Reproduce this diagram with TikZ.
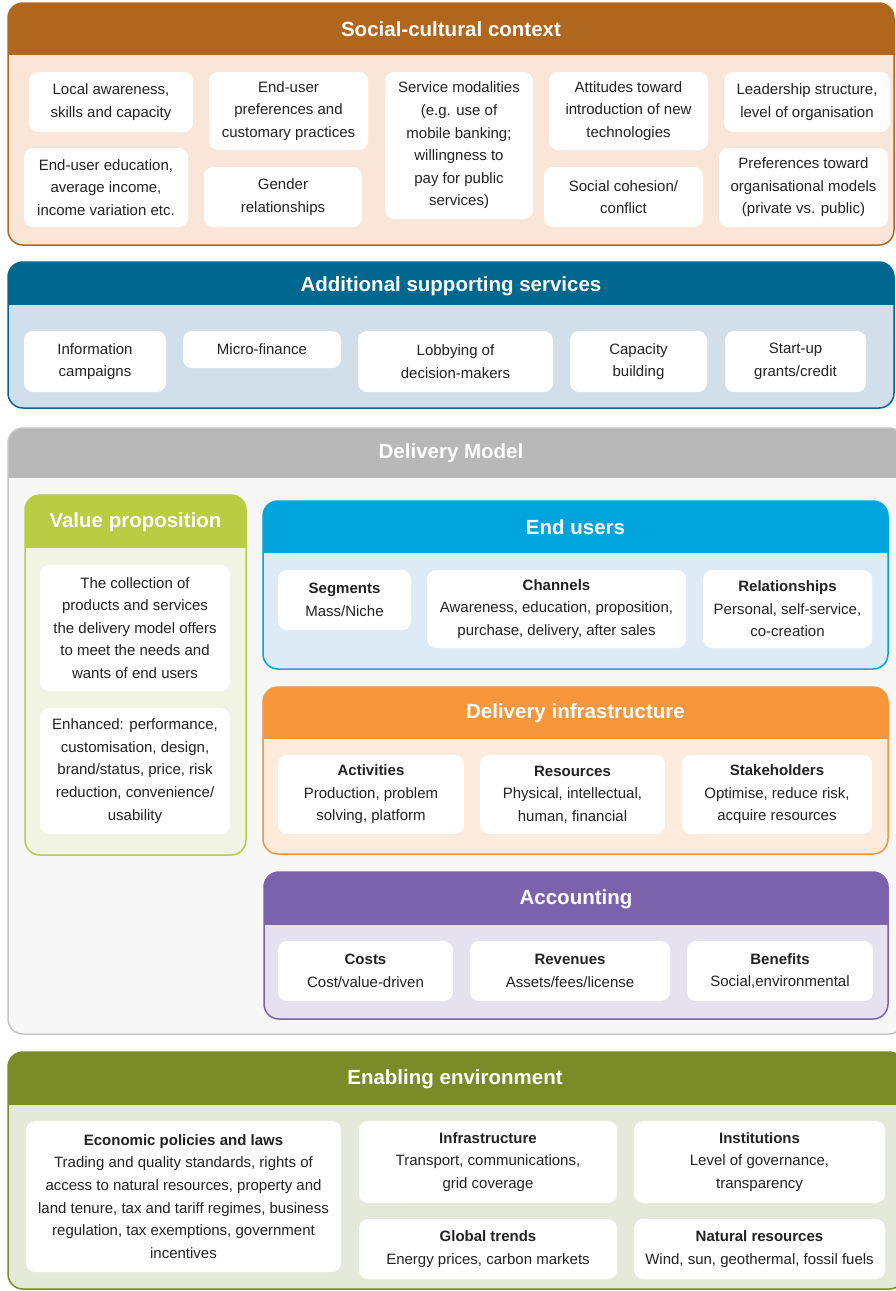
\documentclass[tikz,border=0pt]{standalone}
\usepackage{fontspec}
\setmainfont{Liberation Sans}
\definecolor{brownH}{HTML}{B0661C}
\definecolor{brownB}{HTML}{FAE6D9}
\definecolor{tealH}{HTML}{00678F}
\definecolor{tealB}{HTML}{D0DFEA}
\definecolor{grayH}{HTML}{B8B8B9}
\definecolor{grayB}{HTML}{F7F7F7}
\definecolor{grayL}{HTML}{C6C6C6}
\definecolor{limeH}{HTML}{B8CC44}
\definecolor{limeB}{HTML}{F1F4E2}
\definecolor{cyanH}{HTML}{00A5DD}
\definecolor{cyanB}{HTML}{DDEBF6}
\definecolor{oranH}{HTML}{F7963A}
\definecolor{oranB}{HTML}{FDEBDD}
\definecolor{purpH}{HTML}{7B63AB}
\definecolor{purpB}{HTML}{E5E1EF}
\definecolor{oliveH}{HTML}{7B8B28}
\definecolor{oliveB}{HTML}{E5E9D9}
\definecolor{txt}{HTML}{222222}
\newcommand\mypanel[8]{%
  \begin{scope}
    \clip[rounded corners=15pt] (#1,#2) rectangle (#3,#4);
    \fill[#7] (#1,#2) rectangle (#3,#4);
    \fill[#6] (#1,#2) rectangle (#3,#5);
  \end{scope}
  \draw[#8, line width=1.5pt, rounded corners=15pt] (#1,#2) rectangle (#3,#4);
}
\newcommand\ib[6]{%
  \node[ibox, minimum width={(#4-#2)*1pt}, minimum height={(#5-#3)*1pt}] (#1) at ({(#2+#4)/2},{(#3+#5)/2}) {#6};%
}
\tikzset{
  ibox/.style={fill=white, rounded corners=9pt, inner sep=0pt, align=center, text=txt,
    font=\fontsize{15}{22.6}\selectfont},
  ptitle/.style={text=white, inner sep=0pt, font=\bfseries\fontsize{20.5}{24}\selectfont}
}
\begin{document}
\begin{tikzpicture}[x=1pt,y=-1pt]
\useasboundingbox (0,0) rectangle (896,1291);
\clip (0,0) rectangle (896,1291);
\fill[white] (0,0) rectangle (896,1291);

% Social-cultural context
\mypanel{8}{3}{894}{245}{55}{brownH}{brownB}{brownH}
\node[ptitle] (tsc) at (451,29) {Social-cultural context};
\ib{sc1}{29}{72}{193}{132}{Local awareness,\\skills and capacity}
\ib{sc2}{24}{148}{188}{227}{End-user education,\\average income,\\income variation etc.}
\ib{sc3}{209}{72}{368}{150}{End-user\\preferences and\\customary practices}
\ib{sc4}{204}{167}{362}{227}{Gender\\relationships}
\ib{sc5}{385}{72}{533}{219}{Service modalities\\(e.g. use of\\mobile banking;\\willingness to\\pay for public\\services)}
\ib{sc6}{549}{72}{708}{150}{Attitudes toward\\introduction of new\\technologies}
\ib{sc7}{544}{167}{703}{227}{Social cohesion/\\conflict}
\ib{sc8}{724}{72}{890}{132}{Leadership structure,\\level of organisation}
\ib{sc9}{719}{148}{888}{227}{Preferences toward\\organisational models\\(private vs. public)}

% Additional supporting services
\mypanel{8}{262}{894}{408}{305}{tealH}{tealB}{tealH}
\node[ptitle] (tas) at (451,286) {Additional supporting services};
\ib{as1}{24}{331}{166}{392}{Information\\campaigns}
\ib{as2}{183}{331}{341}{368}{Micro-finance}
\ib{as3}{358}{331}{553}{392}{Lobbying of\\decision-makers}
\ib{as4}{570}{331}{707}{392}{Capacity\\building}
\ib{as5}{725}{331}{866}{392}{Start-up\\grants/credit}

% Delivery model
\mypanel{8}{428}{904}{1034}{478}{grayH}{grayB}{grayL}
\node[ptitle] (tdm) at (451,453) {Delivery Model};

% Value proposition
\mypanel{25}{495}{246}{855}{548}{limeH}{limeB}{limeH}
\node[ptitle] (tvp) at (135.5,522) {Value proposition};
\ib{vp1}{40}{565}{230}{691}{The collection of\\products and services\\the delivery model offers\\to meet the needs and\\wants of end users}
\ib{vp2}{40}{708}{230}{834}{Enhanced: performance,\\customisation, design,\\brand/status, price, risk\\reduction, convenience/\\usability}

% End users
\mypanel{263}{501}{888}{669}{553}{cyanH}{cyanB}{cyanH}
\node[ptitle] (teu) at (575.5,527) {End users};
\ib{eu1}{278}{570}{411}{630}{\textbf{Segments}\\Mass/Niche}
\ib{eu2}{427}{570}{686}{648}{\textbf{Channels}\\Awareness, education, proposition,\\purchase, delivery, after sales}
\ib{eu3}{703}{570}{872}{648}{\textbf{Relationships}\\Personal, self-service,\\co-creation}

% Delivery infrastructure
\mypanel{263}{687}{888}{854}{739}{oranH}{oranB}{oranH}
\node[ptitle] (tdi) at (575.5,713) {Delivery infrastructure};
\ib{di1}{278}{755}{464}{834}{\textbf{Activities}\\Production, problem\\solving, platform}
\ib{di2}{480}{755}{665}{834}{\textbf{Resources}\\Physical, intellectual,\\human, financial}
\ib{di3}{682}{755}{872}{834}{\textbf{Stakeholders}\\Optimise, reduce risk,\\acquire resources}

% Accounting
\mypanel{264}{872}{888}{1019}{925}{purpH}{purpB}{purpH}
\node[ptitle] (tac) at (576,899) {Accounting};
\ib{ac1}{278}{941}{453}{1001}{\textbf{Costs}\\Cost/value-driven}
\ib{ac2}{470}{941}{670}{1001}{\textbf{Revenues}\\Assets/fees/license}
\ib{ac3}{687}{941}{873}{1001}{\textbf{Benefits}\\Social,environmental}

% Enabling environment
\mypanel{8}{1052}{904}{1289}{1105}{oliveH}{oliveB}{oliveH}
\node[ptitle] (tee) at (455,1079) {Enabling environment};
\ib{ee1}{26}{1121}{341}{1272}{\textbf{Economic policies and laws}\\Trading and quality standards, rights of\\access to natural resources, property and\\land tenure, tax and tariff regimes, business\\regulation, tax exemptions, government\\incentives}
\ib{ee2}{359}{1121}{617}{1203}{\textbf{Infrastructure}\\Transport, communications,\\grid coverage}
\ib{ee3}{634}{1121}{885}{1203}{\textbf{Institutions}\\Level of governance,\\transparency}
\ib{ee4}{359}{1219}{617}{1279}{\textbf{Global trends}\\Energy prices, carbon markets}
\ib{ee5}{634}{1219}{885}{1279}{\textbf{Natural resources}\\Wind, sun, geothermal, fossil fuels}
\end{tikzpicture}
\end{document}
